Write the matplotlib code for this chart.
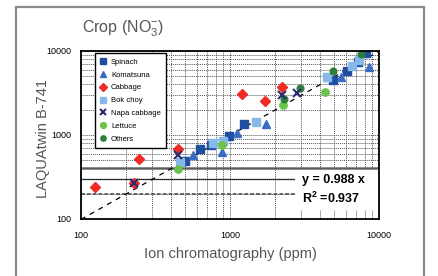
import matplotlib
matplotlib.use("Agg")
import matplotlib.pyplot as plt
from matplotlib.patches import Rectangle
import numpy as np

plt.rcParams['font.family'] = ['Liberation Sans', 'DejaVu Sans']
plt.rcParams['mathtext.fontset'] = 'custom'
plt.rcParams['mathtext.rm'] = 'Liberation Sans'
plt.rcParams['mathtext.it'] = 'Liberation Sans'
plt.rcParams['mathtext.bf'] = 'Liberation Sans:bold'

# ---- data (ion chromatography ppm, LAQUAtwin ppm) ----
spinach_x = [499, 629, 745, 985, 1242, 4911, 6100, 7228, 8180]
spinach_y = [490, 681, 760, 973, 1352, 4517, 5781, 7396, 9465]
komatsuna_x = [565, 884, 1114, 1744, 5559, 8570]
komatsuna_y = [578, 628, 1056, 1352, 4900, 6450]
cabbage_x = [124, 227, 245, 448, 1204, 1718, 2234]
cabbage_y = [240, 268, 518, 681, 3076, 2540, 3728]
bokchoy_x = [462, 770, 898, 1494, 4477, 6590, 7340]
bokchoy_y = [477, 810, 849, 1429, 4900, 6630, 7815]
napa_x = [227, 448, 2234, 2816]
napa_y = [268, 578, 2994, 3162]
lettuce_x = [448, 884, 2269, 4343]
lettuce_y = [394, 760, 2276, 3251]
others_x = [2304, 2951, 4911, 7570]
others_y = [2683, 3628, 5781, 9210]

slope = 0.988
r2 = 0.937
fit_x = [100, 10000]

x_ticks = [100, 1000, 10000]
y_ticks = [100, 1000, 10000]

W, H = 439, 276
fig = plt.figure(figsize=(W / 100, H / 100), dpi=100)
fig.patch.set_facecolor('white')

# outer frame
fig.patches.append(Rectangle((16 / W, -0.05), (424 - 16) / W, 1.05 - 7 / H,
                             transform=fig.transFigure, fill=False,
                             edgecolor='#8a8a8a', linewidth=1.6, zorder=0))

ax = fig.add_axes([81 / W, 1 - 219 / H, (379 - 81) / W, (219 - 51) / H])
ax.set_xscale('log')
ax.set_yscale('log')
ax.set_xlim(100, 10000)
ax.set_ylim(100, 10000)

ax.grid(True, which='both', color='#555555', linestyle=(0, (1, 1)), linewidth=0.7, zorder=0)
ax.axhline(400, color='#666666', linewidth=1.8, zorder=0.5)
ax.axhline(300, color='black', linewidth=0.9, zorder=0.5)
ax.axhline(200, color='#666666', linewidth=1.4, linestyle=(0, (2, 1)), zorder=0.5)

ax.plot(fit_x, [slope * v for v in fit_x], color='black', linestyle=(0, (4, 4)),
        linewidth=0.9, zorder=2)

ms = 5.3
ax.plot(spinach_x, spinach_y, 's', color='#1f4ea0', ms=ms, label='Spinach', zorder=4)
ax.plot(komatsuna_x, komatsuna_y, '^', color='#3b6cc4', ms=ms, label='Komatsuna', zorder=4)
ax.plot(cabbage_x, cabbage_y, 'D', color='#ee2b26', ms=ms, label='Cabbage', zorder=3)
ax.plot(bokchoy_x, bokchoy_y, 's', color='#86b9e8', ms=ms, label='Bok choy', zorder=4)
ax.plot(napa_x, napa_y, 'x', color='#2b2d6e', ms=ms, mew=1.5, label='Napa cabbage', zorder=5)
ax.plot(lettuce_x, lettuce_y, 'o', color='#6cc24a', ms=ms, label='Lettuce', zorder=4)
ax.plot(others_x, others_y, 'o', color='#2e7d3c', ms=ms - 0.5, label='Others', zorder=4)

for s in ax.spines.values():
    s.set_color('black')
    s.set_linewidth(1.3)
    s.set_zorder(6)

ax.set_xticks(x_ticks)
ax.set_xticklabels([str(v) for v in x_ticks])
ax.set_yticks(y_ticks)
ax.set_yticklabels([str(v) for v in y_ticks])
ax.tick_params(which='both', length=0)
ax.tick_params(axis='x', pad=9, labelsize=6.5)
ax.tick_params(axis='y', pad=7, labelsize=6.5)
ax.minorticks_on()
ax.tick_params(which='minor', length=0, labelbottom=False, labelleft=False)

# equation box
bx0, bx1 = 295, 379
by0, by1 = 170, 210
ax.add_patch(Rectangle(((bx0 - 81) / 298, (219 - by1) / 168), (bx1 - bx0) / 298, (by1 - by0) / 168,
                       transform=ax.transAxes, facecolor='white', edgecolor='none', zorder=5))
ax.text((302 - 81) / 298, (219 - 180) / 168, 'y = %.3f x' % slope, transform=ax.transAxes,
        fontsize=9, fontweight='bold', va='center', ha='left', zorder=7)
ax.text((302 - 81) / 298, (219 - 198) / 168, r'R$^\mathbf{2}$ =%.3f' % r2, transform=ax.transAxes,
        fontsize=9, fontweight='bold', va='center', ha='left', zorder=7)

leg = ax.legend(loc='upper left', bbox_to_anchor=((95 - 81) / 298, (219 - 53) / 168),
                fontsize=5.5, frameon=True, fancybox=False, edgecolor='black',
                framealpha=1, borderpad=0.7, labelspacing=0.72, handlelength=0.8,
                handletextpad=0.6, borderaxespad=0, markerscale=0.8)
leg.get_frame().set_linewidth(1.0)
leg.set_zorder(8)

fig.text(123 / W, 1 - 29 / H, 'Crop (NO$_3^{-}$)', fontsize=11.5, color='#555555',
         ha='center', va='center')
fig.text(43 / W, 1 - 138 / H, 'LAQUAtwin B-741', fontsize=10.5, color='#555555',
         ha='center', va='center', rotation=90)
fig.text(230 / W, 1 - 254 / H, 'Ion chromatography (ppm)', fontsize=10.5, color='#555555',
         ha='center', va='center')

fig.savefig('out.png', dpi=100, facecolor='white')
